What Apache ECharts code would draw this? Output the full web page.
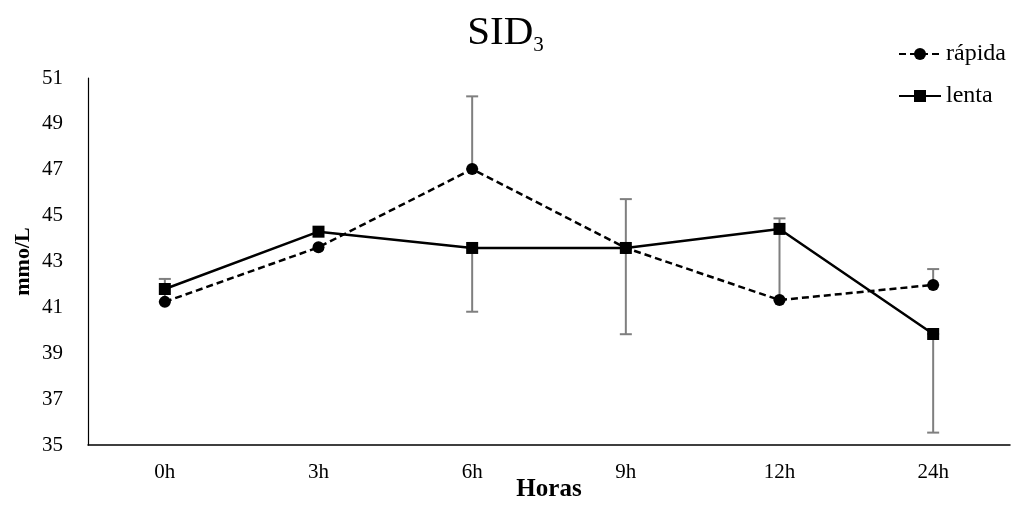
<!DOCTYPE html>
<html><head><meta charset="utf-8">
<script src="https://cdn.jsdelivr.net/npm/echarts@6/dist/echarts.min.js"></script>
<style>html,body{margin:0;padding:0;background:#fff}#c{width:1011px;height:525px}</style>
</head><body><div id="c"></div>
<script>
const categories = ['0h','3h','6h','9h','12h','24h'];
const rapida = [41.24, 43.62, 47.03, 43.59, 41.32, 41.98];
const lenta = [41.80, 44.30, 43.59, 43.59, 44.42, 39.84];
const rapidaErrUp = [1.00, 0, 3.17, 2.13, 3.56, 0.69];
const lentaErrDown = [0, 0, 2.78, 3.76, 0, 4.30];
const yTicks = {min: 35, max: 51, interval: 2};

const FONT = '"Liberation Serif","Times New Roman",serif';
const errData = [];
categories.forEach((c, i) => {
  if (rapidaErrUp[i] > 0) errData.push([i, rapida[i], rapida[i] + rapidaErrUp[i]]);
  if (lentaErrDown[i] > 0) errData.push([i, lenta[i] - lentaErrDown[i], lenta[i]]);
});

const chart = echarts.init(document.getElementById('c'));
chart.setOption({
  animation: false,
  title: {
    text: '{a|SID}{b|3}', left: 'center', top: 6,
    textStyle: { fontWeight: 'normal', rich: {
      a: {fontFamily: FONT, fontSize: 41, fontWeight: 'normal', color: '#000'},
      b: {fontFamily: FONT, fontSize: 21, fontWeight: 'normal', color: '#000', padding: [24, 0, 0, 0]}
    }}
  },
  legend: {
    orient: 'vertical', left: 893, top: 37, itemWidth: 42, itemHeight: 15, itemGap: 18,
    textStyle: {fontFamily: FONT, fontSize: 24, color: '#000'},
    data: ['rápida', 'lenta']
  },
  grid: {left: 88, right: 1, top: 78, bottom: 80},
  xAxis: {
    type: 'category', data: categories,
    axisLine: {lineStyle: {color: '#000', width: 1.5}},
    axisTick: {show: false},
    axisLabel: {fontFamily: FONT, fontSize: 21, color: '#000', margin: 17},
    name: 'Horas', nameLocation: 'middle', nameGap: 32, nameMoveOverlap: false,
    nameTextStyle: {fontFamily: FONT, fontSize: 25, fontWeight: 'bold', color: '#000'}
  },
  yAxis: {
    type: 'value', min: yTicks.min, max: yTicks.max, interval: yTicks.interval,
    axisLine: {show: true, lineStyle: {color: '#000', width: 1.2}},
    axisTick: {show: false}, splitLine: {show: false},
    axisLabel: {fontFamily: FONT, fontSize: 21, color: '#000', margin: 25},
    name: 'mmo/L', nameLocation: 'middle', nameGap: 54, nameRotate: 90, nameMoveOverlap: false,
    nameTextStyle: {fontFamily: FONT, fontSize: 22, fontWeight: 'bold', color: '#000'}
  },
  series: [
    {
      type: 'custom', name: 'err', data: errData, z: 1, silent: true,
      renderItem: function (params, api) {
        const x = api.coord([api.value(0), api.value(1)])[0];
        const yLo = api.coord([api.value(0), api.value(1)])[1];
        const yHi = api.coord([api.value(0), api.value(2)])[1];
        const st = {stroke: '#7f7f7f', lineWidth: 2};
        return {type: 'group', children: [
          {type: 'line', shape: {x1: x, y1: yLo, x2: x, y2: yHi}, style: st},
          {type: 'line', shape: {x1: x - 6, y1: yLo, x2: x + 6, y2: yLo}, style: st},
          {type: 'line', shape: {x1: x - 6, y1: yHi, x2: x + 6, y2: yHi}, style: st}
        ]};
      }
    },
    {
      type: 'line', name: 'rápida', data: rapida, z: 3,
      symbol: 'circle', symbolSize: 12,
      lineStyle: {color: '#000', width: 2.5, type: [7, 4]},
      itemStyle: {color: '#000'}
    },
    {
      type: 'line', name: 'lenta', data: lenta, z: 4,
      symbol: 'rect', symbolSize: 12,
      lineStyle: {color: '#000', width: 2.5, type: 'solid'},
      itemStyle: {color: '#000'}
    }
  ]
});
</script></body></html>
